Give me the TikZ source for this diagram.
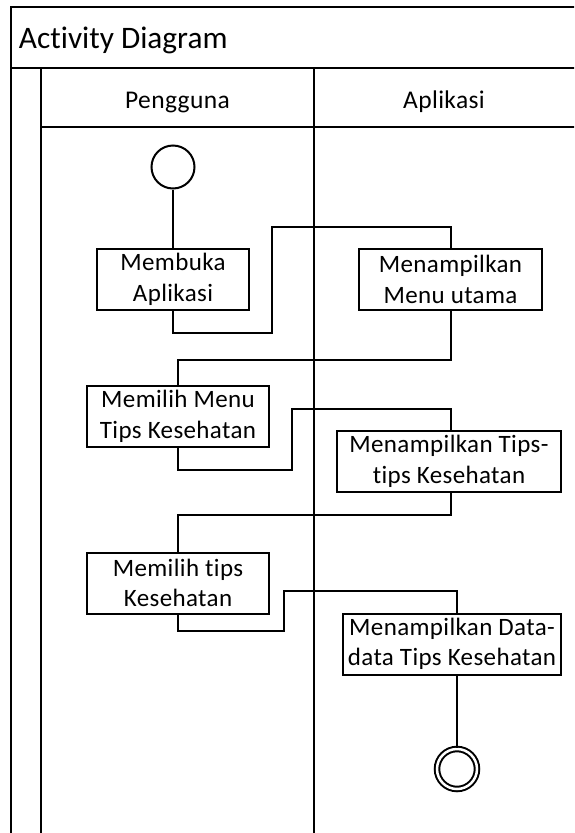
\documentclass[tikz,border=0pt]{standalone}
\usepackage{fontspec}
\setmainfont{Carlito}[Ligatures=NoCommon]
\newfontfamily\boxfont{Carlito}[LetterSpace=1.5,Ligatures=NoCommon]
\begin{document}
\begin{tikzpicture}[x=1pt,y=-1pt,line width=2pt,
  act/.style={draw,rectangle,align=center,inner sep=0pt,minimum height=61pt,
    font=\boxfont\fontsize{25}{30.5}\selectfont},
  lanehead/.style={anchor=base,inner sep=0pt,font=\boxfont\fontsize{25.5}{30}\selectfont},
  flow/.style={draw,line join=miter},
  startnode/.style={draw,circle,minimum size=43pt,inner sep=0pt},
  endnode/.style={draw,circle,double,double distance=2.5pt,minimum size=40pt,inner sep=0pt}]
\useasboundingbox (0,0) rectangle (574,833);
\begin{scope}
\clip (0,0) rectangle (574,833);
% swimlane frame
\draw (11,900) -- (11,7) -- (620,7);
\draw (11,68) -- (620,68);
\draw (41,68) -- (41,900);
\draw (41,127) -- (620,127);
\draw (314,68) -- (314,900);
\end{scope}
\node[anchor=base west,inner sep=0pt,font=\fontsize{31.3}{38}\selectfont] (title) at (18,48) {Activity Diagram};
\node[lanehead] (lane1) at (177.5,108) {Pengguna};
\node[lanehead] (lane2) at (444,108) {Aplikasi};

% activities
\node[startnode] (start) at (173,167) {};
\node[act,minimum width=152pt] (buka) at (173,279.5) {Membuka\\Aplikasi};
\node[act,minimum width=183pt] (menu) at (450.5,279.5) {Menampilkan\\Menu utama};
\node[act,minimum width=182pt] (pilihmenu) at (178,416.5) {Memilih Menu\\Tips Kesehatan};
\node[act,minimum width=224pt] (tampiltips) at (449,461.5) {Menampilkan Tips-\\tips Kesehatan};
\node[act,minimum width=182pt] (pilihtips) at (178,583) {Memilih tips\\Kesehatan};
\node[act,minimum width=218pt] (tampildata) at (452,644) {Menampilkan Data-\\data Tips Kesehatan};
\node[endnode] (end) at (457,769) {};

% control flow
\draw (start) -- (buka);
\draw[flow] (buka.south) -- ++(0,22) -| (272,227) -| (menu.north);
\draw[flow] (menu.south) -- ++(0,49) -| (pilihmenu.north);
\draw[flow] (pilihmenu.south) -- ++(0,22) -| (292,409) -| ([xshift=2pt]tampiltips.north);
\draw[flow] ([xshift=2pt]tampiltips.south) -- ++(0,22) -| (pilihmenu.south |- pilihtips.north);
\draw[flow] (pilihtips.south) -- ++(0,16) -| (284,591) -| ([xshift=5pt]tampildata.north);
\draw ([xshift=5pt]tampildata.south) -- (end);
\end{tikzpicture}
\end{document}
